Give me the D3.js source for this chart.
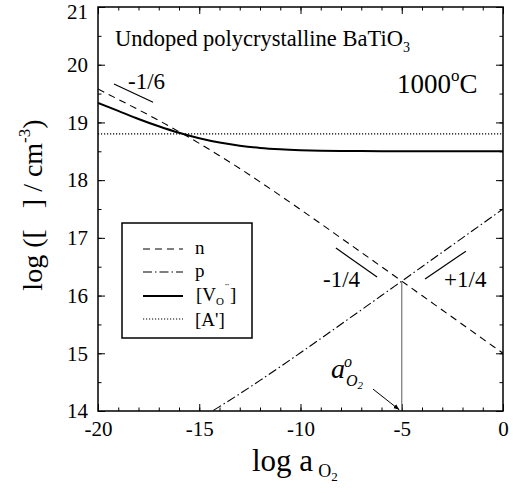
<!DOCTYPE html>
<html>
<head>
<meta charset="utf-8">
<script src="https://cdn.jsdelivr.net/npm/d3@7"></script>
<style>
  html, body { margin: 0; padding: 0; background: #fff; }
  svg { display: block; }
  svg text { font-family: "Liberation Serif", "Times New Roman", serif; fill: #000; }
  .axis text { font-size: 21px; }
  .axis line { stroke: #000; stroke-width: 1; }
  .axis path { display: none; }
</style>
</head>
<body>
<svg id="chart" width="513" height="493"></svg>
<script>
// log a_O2 grid for the computed defect curves
const logA = [-20, -19, -18, -17, -16, -15, -14, -13, -12, -11, -10,
              -9, -8, -7, -6, -5, -4, -3, -2, -1, 0];
// log n (electrons)
const nValues = [19.58, 19.40, 19.22, 19.035, 18.84, 18.637, 18.424, 18.202, 17.97, 17.733, 17.49,
                 17.245, 16.997, 16.749, 16.50, 16.25, 16.0, 15.75, 15.5, 15.25, 15.0];
// log [V_O..] (oxygen vacancies)
const vValues = [19.34, 19.20, 19.06, 18.933, 18.82, 18.726, 18.651, 18.597, 18.559, 18.535, 18.52,
                 18.511, 18.506, 18.503, 18.501, 18.50, 18.50, 18.50, 18.50, 18.50, 18.50];
// log p (holes), only where it enters the plotted range
const pLogA = [-15, -14, -13, -12, -11, -10, -9, -8, -7, -6, -5, -4, -3, -2, -1, 0];
const pValues = [13.863, 14.076, 14.298, 14.53, 14.767, 15.01, 15.255, 15.503, 15.751, 16.0,
                 16.25, 16.5, 16.75, 17.0, 17.25, 17.5];
// log [A'] (background acceptors), constant
const acceptorLogA = [-20, 0];
const acceptorValues = [18.8, 18.8];

// axis ticks
const xMajorTicks = [-20, -15, -10, -5, 0];
const xMinorTicks = d3.range(-20, 1, 1);
const yMajorTicks = [14, 15, 16, 17, 18, 19, 20, 21];
const yMinorTicks = d3.range(14, 21.01, 0.5);

// stoichiometric point
const stoichLogA = -5;
const stoichLog = 16.25;

const svg = d3.select("#chart");
const margin = { left: 98, top: 7, right: 10, bottom: 82 };
const W = 513, H = 493;
const x = d3.scaleLinear().domain([-20, 0]).range([margin.left, W - margin.right]);
const y = d3.scaleLinear().domain([14, 21]).range([H - margin.bottom, margin.top]);

const defs = svg.append("defs");
defs.append("clipPath").attr("id", "plotclip")
  .append("rect")
  .attr("x", x(-20)).attr("y", y(21))
  .attr("width", x(0) - x(-20)).attr("height", y(14) - y(21));

const fmt = d => String(d);
const serif = "'Liberation Serif', 'Times New Roman', serif";

// ---- axes ----
const xb = svg.append("g").attr("class", "axis").attr("transform", `translate(0,${y(14)})`);
xb.call(d3.axisBottom(x).tickValues(xMinorTicks).tickSize(-3.5).tickFormat(""));
xb.append("g").call(d3.axisBottom(x).tickValues(xMajorTicks).tickSize(-7).tickPadding(10).tickFormat(fmt));
const xt = svg.append("g").attr("class", "axis").attr("transform", `translate(0,${y(21)})`);
xt.call(d3.axisTop(x).tickValues(xMinorTicks).tickSize(-3.5).tickFormat(""));
xt.append("g").call(d3.axisTop(x).tickValues(xMajorTicks).tickSize(-7).tickFormat(""));

const yl = svg.append("g").attr("class", "axis").attr("transform", `translate(${x(-20)},0)`);
yl.call(d3.axisLeft(y).tickValues(yMinorTicks).tickSize(-3.5).tickFormat(""));
yl.append("g").call(d3.axisLeft(y).tickValues(yMajorTicks).tickSize(-7).tickPadding(10).tickFormat(fmt));
// keep the top label inside the page
yl.selectAll("g.tick").filter(d => d === 21).select("text").attr("dy", "0.55em");
const yr = svg.append("g").attr("class", "axis").attr("transform", `translate(${x(0)},0)`);
yr.call(d3.axisRight(y).tickValues(yMinorTicks).tickSize(-3.5).tickFormat(""));
yr.append("g").call(d3.axisRight(y).tickValues(yMajorTicks).tickSize(-7).tickFormat(""));

// ---- curves ----
const plot = svg.append("g").attr("clip-path", "url(#plotclip)");
const line = d3.line().x(d => x(d[0])).y(d => y(d[1])).curve(d3.curveMonotoneX);

plot.append("path")
  .datum(acceptorLogA.map((a, i) => [a, acceptorValues[i]]))
  .attr("d", line).attr("fill", "none").attr("stroke", "#000")
  .attr("stroke-width", 1.2).attr("stroke-dasharray", "1.2,1.8");

plot.append("path")
  .datum(logA.map((a, i) => [a, nValues[i]]))
  .attr("d", line).attr("fill", "none").attr("stroke", "#000")
  .attr("stroke-width", 1.1).attr("stroke-dasharray", "7,5");

plot.append("path")
  .datum(pLogA.map((a, i) => [a, pValues[i]]))
  .attr("d", line).attr("fill", "none").attr("stroke", "#000")
  .attr("stroke-width", 1.1).attr("stroke-dasharray", "9,3,1.5,3");

plot.append("path")
  .datum(logA.map((a, i) => [a, vValues[i]]))
  .attr("d", line).attr("fill", "none").attr("stroke", "#000")
  .attr("stroke-width", 2);

// vertical marker at the stoichiometric point
plot.append("line")
  .attr("x1", x(stoichLogA)).attr("x2", x(stoichLogA))
  .attr("y1", y(14)).attr("y2", y(stoichLog))
  .attr("stroke", "#777").attr("stroke-width", 1.2);

// ---- frame ----
svg.append("rect")
  .attr("x", x(-20)).attr("y", y(21))
  .attr("width", x(0) - x(-20)).attr("height", y(14) - y(21))
  .attr("fill", "none").attr("stroke", "#000").attr("stroke-width", 1.5);

// ---- slope guides ----
const guides = [
  { from: [-19.21, 19.665], to: [-17.28, 19.35], label: "-1/6", lx: -18.52, ly: 19.58 },
  { from: [-8.25, 16.823], to: [-6.22, 16.32], label: "-1/4", lx: -8.89, ly: 16.147 },
  { from: [-3.85, 16.286], to: [-1.83, 16.77], label: "+1/4", lx: -2.91, ly: 16.147 }
];
guides.forEach(g => {
  svg.append("line")
    .attr("x1", x(g.from[0])).attr("y1", y(g.from[1]))
    .attr("x2", x(g.to[0])).attr("y2", y(g.to[1]))
    .attr("stroke", "#000").attr("stroke-width", 1.2);
  svg.append("text").attr("x", x(g.lx)).attr("y", y(g.ly))
    .attr("font-size", 23).text(g.label);
});

// ---- a°_O2 annotation with arrow ----
defs.append("marker")
  .attr("id", "arrow").attr("viewBox", "0 0 10 10").attr("refX", 10).attr("refY", 5)
  .attr("markerWidth", 6).attr("markerHeight", 6).attr("orient", "auto")
  .append("path").attr("d", "M0,1 L10,5 L0,9 z").attr("fill", "#000");
svg.append("line")
  .attr("x1", x(-6.42)).attr("y1", y(14.38))
  .attr("x2", x(-5.12)).attr("y2", y(14.02))
  .attr("stroke", "#000").attr("stroke-width", 1)
  .attr("marker-end", "url(#arrow)");
const aLab = svg.append("text").attr("x", 331).attr("y", 378)
  .attr("font-size", 28).attr("font-style", "italic");
aLab.append("tspan").text("a");
aLab.append("tspan").attr("dx", -1).attr("dy", -11).attr("font-size", 16).text("o");
aLab.append("tspan").attr("x", 346).attr("dy", 19).attr("font-size", 16).text("O");
aLab.append("tspan").attr("dy", 3).attr("font-size", 11).text("2");

// ---- titles ----
const title = svg.append("text").attr("x", 115).attr("y", 46).attr("font-size", 22.5);
title.append("tspan").text("Undoped polycrystalline BaTiO");
title.append("tspan").attr("dy", 6).attr("font-size", 14).text("3");

const temp = svg.append("text").attr("x", 397).attr("y", 93).attr("font-size", 27);
temp.append("tspan").text("1000");
temp.append("tspan").attr("dy", -12).attr("font-size", 17).text("o");
temp.append("tspan").attr("dy", 12).text("C");

// x-axis title
const xTitle = svg.append("text").attr("x", 252).attr("y", 471).attr("font-size", 31);
xTitle.append("tspan").text("log a");
xTitle.append("tspan").attr("dx", 5).attr("dy", 6).attr("font-size", 18).text("O");
xTitle.append("tspan").attr("dy", 4).attr("font-size", 13).text("2");

// y-axis title
const yTitle = svg.append("text").attr("transform", "translate(42,205) rotate(-90)")
  .attr("text-anchor", "middle").attr("font-size", 28);
yTitle.append("tspan").text("log ([\u00a0\u00a0\u00a0] / cm");
yTitle.append("tspan").attr("dy", -12).attr("font-size", 17).text("-3");
yTitle.append("tspan").attr("dy", 12).text(")");

// ---- legend ----
const legend = svg.append("g");
legend.append("rect").attr("x", 122).attr("y", 223).attr("width", 130).attr("height", 115)
  .attr("fill", "#fff").attr("stroke", "#000").attr("stroke-width", 1.5);
const legendItems = [
  { dash: "7,5", width: 1.1, y: 249 },
  { dash: "9,3,1.5,3", width: 1.1, y: 272 },
  { dash: null, width: 2.2, y: 296 },
  { dash: "1.2,1.8", width: 1.2, y: 319 }
];
legendItems.forEach(it => {
  legend.append("line").attr("x1", 143).attr("x2", 183).attr("y1", it.y).attr("y2", it.y)
    .attr("stroke", "#000").attr("stroke-width", it.width)
    .attr("stroke-dasharray", it.dash);
});
const lfs = 19;
legend.append("text").attr("x", 195).attr("y", 249 + 5).attr("font-size", lfs).text("n");
legend.append("text").attr("x", 195).attr("y", 272 + 5).attr("font-size", lfs).text("p");
const vl = legend.append("text").attr("x", 196).attr("y", 296 + 5).attr("font-size", lfs);
vl.append("tspan").text("[V");
vl.append("tspan").attr("dy", 4).attr("font-size", 11).text("O");
vl.append("tspan").attr("dx", 1).attr("dy", -13).attr("font-size", 12).text("\u00a8");
vl.append("tspan").attr("dx", 1).attr("dy", 9).text("]");
legend.append("text").attr("x", 195).attr("y", 319 + 7).attr("font-size", lfs).text("[A']");

// every label in the serif face
svg.selectAll("text").style("font-family", serif);
</script>
</body>
</html>
